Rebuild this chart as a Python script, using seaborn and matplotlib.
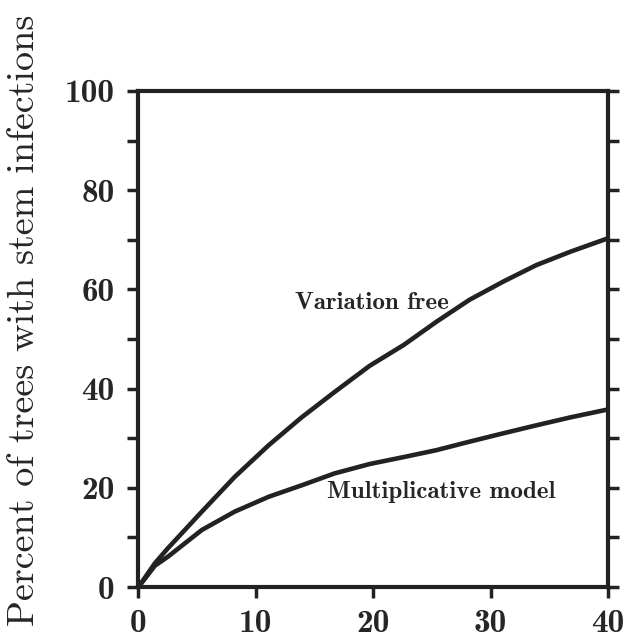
import numpy as np
import pandas as pd
import matplotlib
matplotlib.use('Agg')
from matplotlib import pyplot as plt
from matplotlib.ticker import MultipleLocator
import seaborn as sns

# 数据 (从图上读的)
years = [0, 1.4, 2.5, 5.4, 8.2, 11.1, 13.9, 16.7, 19.7, 22.6, 25.4, 28.2, 31.1, 33.9, 36.8, 40]
variation_free = [0, 4.8, 7.8, 15.2, 22.2, 28.6, 34.2, 39.3, 44.6, 48.8, 53.5, 57.9, 61.6, 64.9, 67.6, 70.3]
multiplicative = [0, 4.3, 6.1, 11.5, 15.2, 18.2, 20.5, 22.9, 24.8, 26.2, 27.6, 29.3, 31.0, 32.6, 34.2, 35.8]

sns.set_style('ticks')
plt.rcParams['font.family'] = ['cmb10', 'DejaVu Serif']
plt.rcParams['axes.unicode_minus'] = False
plt.rcParams['axes.formatter.use_mathtext'] = False

df = pd.DataFrame({
    'x': years * 2,
    'y': variation_free + multiplicative,
    'model': ['Variation free'] * len(years) + ['Multiplicative model'] * len(years),
})

fig = plt.figure(figsize=(6.26, 6.38), dpi=100)
ax = fig.add_axes([0.2212, 0.0799, 0.9712 - 0.2212, 0.8574 - 0.0799])

sns.lineplot(data=df, x='x', y='y', units='model', estimator=None,
             color='#222222', lw=3.3, ax=ax, legend=False)

ax.set_xlim(0, 40)
ax.set_ylim(0, 100)
ax.xaxis.set_major_locator(MultipleLocator(10))
ax.yaxis.set_major_locator(MultipleLocator(20))
ax.yaxis.set_minor_locator(MultipleLocator(10))

for s in ax.spines.values():
    s.set_linewidth(3)
    s.set_color('#222222')

ax.tick_params(axis='y', which='both', left=True, right=True, direction='out',
               length=8, width=2.5, color='#222222', labelsize=24, pad=9)
ax.tick_params(axis='x', which='both', bottom=True, top=False, direction='out',
               length=8, width=2.5, color='#222222', labelsize=24, pad=8)

ax.set_xlabel('')
ax.set_ylabel('Percent of trees with stem infections', fontsize=27.5,
              family=['cmr10', 'DejaVu Serif'])
ax.yaxis.set_label_coords(-0.207, 0.538)

ax.text(19.9, 57.2, 'Variation free', fontsize=18, ha='center', va='center')
ax.text(25.8, 19.2, 'Multiplicative model', fontsize=18, ha='center', va='center')

plt.savefig('out.png', dpi=100)
